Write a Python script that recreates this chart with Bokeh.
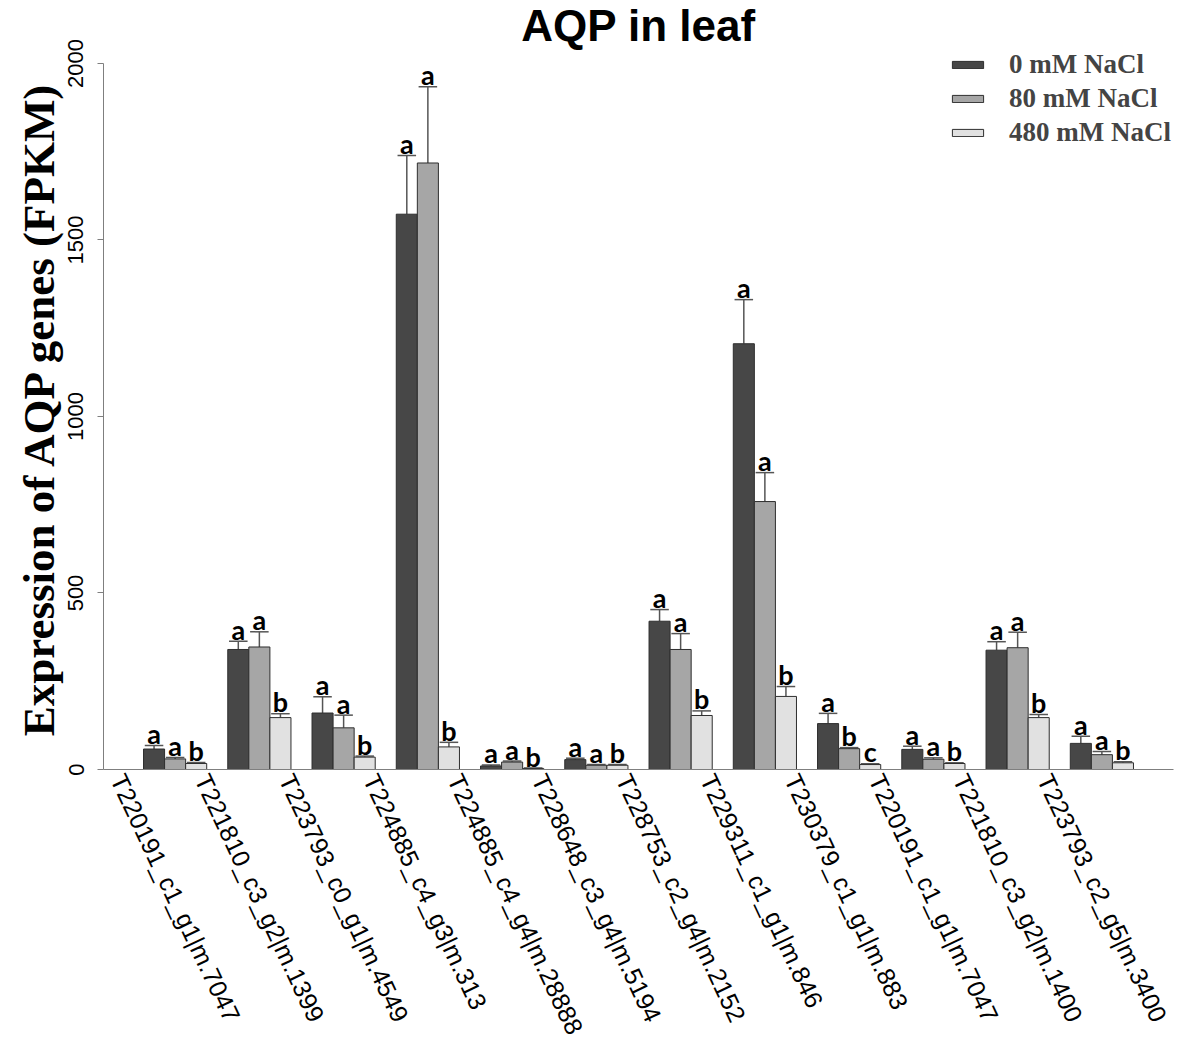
import numpy as np
from bokeh.plotting import figure
from bokeh.models import ColumnDataSource, FixedTicker, Legend, LegendItem, Range1d
from bokeh.core.properties import value
from bokeh.embed import file_html
from bokeh.resources import INLINE

genes = ["T220191_c1_g1|m.7047", "T221810_c3_g2|m.1399", "T223793_c0_g1|m.4549",
         "T224885_c4_g3|m.313", "T224885_c4_g4|m.28888", "T228648_c3_g4|m.5194",
         "T228753_c2_g4|m.2152", "T229311_c1_g1|m.846", "T230379_c1_g1|m.883",
         "T220191_c1_g1|m.7047", "T221810_c3_g2|m.1400", "T223793_c2_g5|m.3400"]
series = ["0 mM NaCl", "80 mM NaCl", "480 mM NaCl"]

mean_0 = [58, 340, 160, 1573, 10, 28, 420, 1206, 130, 57, 338, 74]
err_0 = [10, 23, 46, 166, 3, 4, 33, 125, 29, 9, 24, 20]
mean_80 = [30, 347, 118, 1718, 21, 12, 340, 759, 59, 29, 345, 42]
err_80 = [4, 43, 36, 216, 3, 2, 45, 82, 3, 4, 44, 9]
mean_480 = [17, 147, 35, 64, 3, 12, 153, 207, 14, 17, 147, 19]
err_480 = [3, 11, 3, 13, 1, 2, 13, 28, 2, 2, 9, 3]
letters_0 = ["a"] * 12
letters_80 = ["a", "a", "a", "a", "a", "a", "a", "a", "b", "a", "a", "a"]
letters_480 = ["b", "b", "b", "b", "b", "b", "b", "b", "c", "b", "b", "b"]

y_ticks = [0, 500, 1000, 1500, 2000]

colors = ["#474747", "#a6a6a6", "#e1e1e1"]
SHIFT = 0.68   # group centre relative to its label tick
BW = 0.25
offsets = [-BW, 0.0, BW]
Y_TOP = 2048   # headroom above 2000 so the legend is not clipped
LETTER_GAP = 34  # data units between cap and letter centre

n = len(genes)
p = figure(frame_width=1070, frame_height=723,
           x_range=Range1d(1 + SHIFT - 0.85, n + SHIFT + 0.85),
           y_range=Range1d(0, Y_TOP),
           output_backend="svg", toolbar_location=None,
           min_border_left=103, min_border_right=31, min_border_top=46, min_border_bottom=276)

p.background_fill_color = "white"
p.border_fill_color = "white"
p.outline_line_color = None
p.xgrid.visible = False
p.ygrid.visible = False

p.title.text = "AQP in leaf"
p.title.align = "center"
p.title.text_font = "Liberation Sans"
p.title.text_font_style = "bold"
p.title.text_font_size = "44px"
p.title.text_color = "black"
p.title.standoff = -7

renderers = []
for means, errs, letters, off, col in zip([mean_0, mean_80, mean_480],
                                           [err_0, err_80, err_480],
                                           [letters_0, letters_80, letters_480],
                                           offsets, colors):
    xs = [i + 1 + SHIFT + off for i in range(n)]
    tops = [m + e for m, e in zip(means, errs)]
    src = ColumnDataSource(dict(x=xs, top=means, etop=tops, ltop=[t + LETTER_GAP for t in tops],
                                letter=letters,
                                cl=[x - 0.11 for x in xs], cr=[x + 0.11 for x in xs]))
    p.segment(x0="x", y0="top", x1="x", y1="etop", source=src, line_color="#555555", line_width=1.5)
    p.segment(x0="cl", y0="etop", x1="cr", y1="etop", source=src, line_color="#555555", line_width=1.5)
    r = p.vbar(x="x", top="top", bottom=0, width=BW, source=src, fill_color=col,
               line_color="#2e2e2e", line_width=1)
    renderers.append(r)
    p.text(x="x", y="ltop", text="letter", source=src, text_font=value("Lato"),
           text_font_style="bold", text_font_size="27px", text_align="center",
           text_baseline="middle", text_color="black")

legend = Legend(items=[LegendItem(label=s, renderers=[r]) for s, r in zip(series, renderers)],
                location=(845, 621), orientation="vertical")
legend.label_text_font = "Liberation Serif"
legend.label_text_font_style = "bold"
legend.label_text_font_size = "27px"
legend.label_height = 24
legend.glyph_height = 9
legend.glyph_width = 39
legend.label_standoff = 22
legend.spacing = 3
legend.padding = 0
legend.margin = 0
legend.border_line_color = None
legend.background_fill_alpha = 0
p.add_layout(legend)

# y axis
ya = p.yaxis[0]
ya.ticker = FixedTicker(ticks=y_ticks)
ya.bounds = (0, 2000)
ya.major_label_orientation = "vertical"
ya.major_label_text_font = "Liberation Sans"
ya.major_label_text_font_size = "22px"
ya.major_label_text_color = "black"
ya.axis_line_color = "#7f7f7f"
ya.major_tick_line_color = "#7f7f7f"
ya.major_tick_out = 6
ya.major_tick_in = 0
ya.minor_tick_line_color = None
ya.major_label_standoff = 14
ya.axis_label = "Expression of AQP genes (FPKM)"
ya.axis_label_text_font = "Liberation Serif"
ya.axis_label_text_font_style = "bold"
ya.axis_label_text_font_size = "45px"
ya.axis_label_text_color = "black"
ya.axis_label_standoff = 2

# x axis
xa = p.xaxis[0]
xa.ticker = FixedTicker(ticks=list(range(1, n + 1)))
xa.major_label_overrides = {i + 1: g for i, g in enumerate(genes)}
xa.major_label_orientation = -1.13
xa.major_label_text_font = "Liberation Sans"
xa.major_label_text_font_size = "25px"
xa.major_label_text_color = "black"
xa.axis_line_color = "#7f7f7f"
xa.major_tick_line_color = None
xa.minor_tick_line_color = None
xa.major_label_standoff = 0

open("out.html", "w").write(file_html(p, INLINE))
